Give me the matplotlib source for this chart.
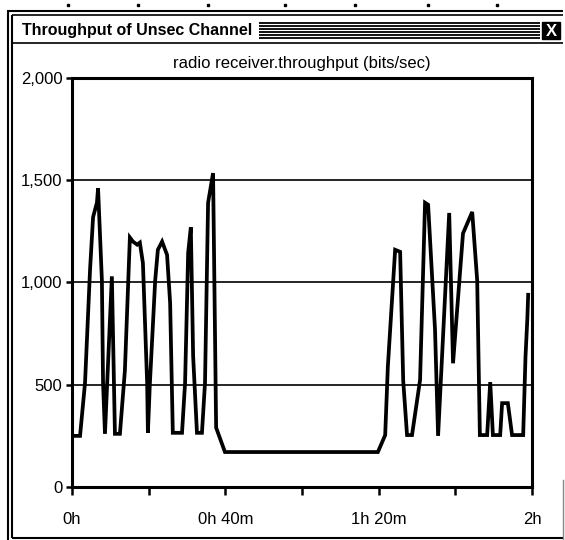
import matplotlib
matplotlib.use("Agg")
import matplotlib.pyplot as plt
from matplotlib.ticker import FuncFormatter

# time in minutes, throughput in bits/sec
minutes = [0, 2.1, 3.4, 4.7, 5.5, 6.5, 6.8, 7.8, 8.1, 8.6, 10.4, 11.2, 12.5,
           13.8, 15.1, 15.9, 17.0, 17.7, 18.5, 19.6, 19.8, 20.3, 21.7, 22.4,
           23.5, 24.8, 25.6, 26.3, 28.7, 29.5, 30.3, 31.0, 31.6, 32.6, 33.9,
           34.7, 35.5, 36.8, 37.6, 39.9, 79.8, 81.7, 82.4, 84.3, 85.6, 86.4,
           87.4, 88.7, 90.8, 92.1, 92.9, 94.7, 95.5, 98.4, 99.4, 102.0, 104.4,
           105.7, 106.4, 108.3, 109.1, 109.8, 111.7, 112.2, 113.7, 114.8,
           117.7, 118.3, 118.8, 119.0]
throughput = [250, 250, 510, 1060, 1320, 1390, 1460, 1010, 510, 260, 1030, 260,
              260, 570, 1220, 1200, 1185, 1195, 1095, 510, 265, 500, 1010, 1160,
              1200, 1135, 900, 265, 265, 510, 1145, 1270, 640, 265, 265, 510,
              1390, 1535, 290, 171, 171, 254, 590, 1160, 1150, 520, 254, 254,
              523, 1390, 1380, 770, 250, 1340, 605, 1240, 1345, 1010, 254, 254,
              513, 254, 254, 410, 410, 254, 254, 635, 830, 940]

y_ticks = [0, 500, 1000, 1500, 2000]
x_ticks = [0, 20, 40, 60, 80, 100, 120]
x_labels = {0: "0h", 40: "0h 40m", 80: "1h 20m", 120: "2h"}

W, H = 565, 540
plt.rcParams['font.family'] = ['Liberation Sans', 'DejaVu Sans']

fig = plt.figure(figsize=(W / 100, H / 100), dpi=100)

# window chrome, drawn in pixel units on a background axes
bg = fig.add_axes([0, 0, 1, 1])
bg.set_xlim(0, W)
bg.set_ylim(H, 0)
bg.axis("off")
k = dict(color="black", solid_capstyle="butt")
bg.plot([7, 563], [11, 11], lw=1.5, **k)
bg.plot([12, 563], [15, 15], lw=1.2, **k)
bg.plot([7.5, 7.5], [11, 540], lw=1.5, **k)
bg.plot([12, 12], [15, 538], lw=1.5, **k)
bg.plot([12, 563], [43, 43], lw=1.2, **k)
bg.plot([12, 563], [538, 538], lw=1.5, **k)
bg.plot([563, 563], [480, 540], lw=1, color="#888888")
for yy in [23, 26, 29, 32, 35, 38]:
    bg.plot([259, 540], [yy, yy], lw=1.3, **k)
bg.add_patch(plt.Rectangle((542, 22), 18, 17, color="black"))
bg.text(551, 31, "X", color="white", fontsize=12, fontweight="bold",
        ha="center", va="center")
bg.text(22, 31, "Throughput of Unsec Channel", fontsize=11.5,
        fontweight="bold", ha="left", va="center")
for xx in [68, 138, 208, 285, 355, 428, 497]:
    bg.plot(xx, 5, marker="s", ms=1.5, color="black")

# the chart itself
ax = fig.add_axes([72 / W, (H - 487) / H, 460 / W, 409 / H])
ax.plot(minutes, throughput, color="black", lw=2.7, solid_joinstyle="miter")
ax.set_xlim(0, 120)
ax.set_ylim(0, 2000)
for v in y_ticks[1:-1]:
    ax.axhline(v, color="black", lw=1.2, zorder=0)
ax.set_yticks(y_ticks)
ax.yaxis.set_major_formatter(FuncFormatter(lambda v, p: f"{int(v):,}"))
ax.set_xticks(x_ticks)
ax.set_xticklabels([x_labels.get(t, "") for t in x_ticks])
ax.tick_params(axis="both", direction="out", width=1.8, colors="black",
               labelsize=12)
ax.tick_params(axis="x", length=6, pad=12)
ax.tick_params(axis="y", length=4, pad=3)
for s in ax.spines.values():
    s.set_linewidth(2.2)
ax.set_title("radio receiver.throughput (bits/sec)", fontsize=12, pad=7)

fig.savefig("out.png", dpi=100)
